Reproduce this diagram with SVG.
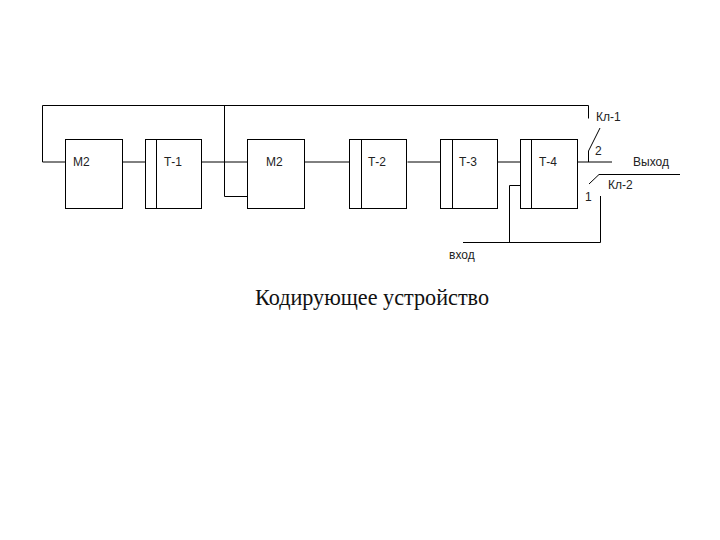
<svg xmlns="http://www.w3.org/2000/svg" width="720" height="540" viewBox="0 0 720 540">
<style>
.b{fill:#fff;stroke:#000;stroke-width:1}
.l{fill:none;stroke:#000;stroke-width:1}
text{font-family:"Liberation Sans",Arial,sans-serif;font-size:12px;fill:#222}
.t{font-family:"Liberation Serif","Times New Roman",serif;font-size:22.2px;fill:#111}
</style>
<rect width="720" height="540" fill="#fff"/>
<g id="connectors">
<path class="l" d="M65.500 162H42.500V105.500H588.500V118.500"/>
<path class="l" d="M224.500 105.500V196.500H247.500"/>
<path class="l" d="M122.500 162H145.500M201.500 162H247.500M304.500 162H349.500M407.500 162H440.500M497.500 162H520.500M577.500 162H612"/>
<path class="l" d="M588.500 162V151L600 128"/>
<path class="l" d="M589 184L599 174.500H680"/>
<path class="l" d="M463 242.500H600.500V196"/>
<path class="l" d="M509.500 242.500V185.500H520.500"/>
</g>
<g id="m2a"><rect class="b" x="65.500" y="139.500" width="57" height="69"/><text x="73" y="166">М2</text></g>
<g id="t1"><rect class="b" x="145.500" y="139.500" width="56" height="69"/><path class="l" d="M156.500 139.500V208.500"/><text x="164" y="166">Т-1</text></g>
<g id="m2b"><rect class="b" x="247.500" y="139.500" width="57" height="69"/><text x="266" y="166">М2</text></g>
<g id="t2"><rect class="b" x="349.500" y="139.500" width="57" height="69"/><path class="l" d="M361.500 139.500V208.500"/><text x="368" y="166">Т-2</text></g>
<g id="t3"><rect class="b" x="440.500" y="139.500" width="57" height="69"/><path class="l" d="M452.500 139.500V208.500"/><text x="459" y="166">Т-3</text></g>
<g id="t4"><rect class="b" x="520.500" y="139.500" width="57" height="69"/><path class="l" d="M531.500 139.500V208.500"/><text x="539" y="166">Т-4</text></g>
<g id="labels">
<text x="596" y="121">Кл-1</text>
<text x="595" y="155">2</text>
<text x="633" y="166">Выход</text>
<text x="608" y="189">Кл-2</text>
<text x="585" y="201">1</text>
<text x="449" y="259">вход</text>
<text class="t" x="255" y="305">Кодирующее устройство</text>
</g>
</svg>
